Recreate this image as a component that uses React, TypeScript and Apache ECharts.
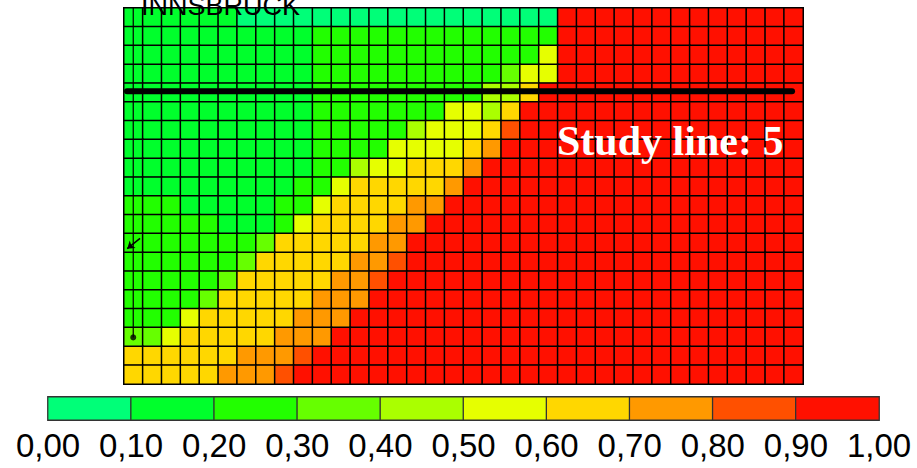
import React, { useEffect, useRef } from "react";
import * as echarts from "echarts";

// ---- categories ----
const columns = ["1","2","3","4","5","6","7","8","9","10","11","12","13","14","15","16","17","18","19","20","21","22","23","24","25","26","27","28","29","30","31","32","33","34","35","36"];
const rows = ["1","2","3","4","5","6","7","8","9","10","11","12","13","14","15","16","17","18","19","20"];

// ---- cell values, one array per row (top to bottom), 36 columns each ----
const row00 = [.15,.15,.15,.15,.15,.15, .05,.05,.05,.05,.05,.05, .05,.05,.05,.05,.05,.05, .05,.05,.05,.05,.05,.95, .95,.95,.95,.95,.95,.95, .95,.95,.95,.95,.95,.95];
const row01 = [.15,.15,.15,.15,.15,.15, .15,.15,.15,.15,.25,.25, .25,.25,.25,.25,.25,.25, .25,.25,.25,.25,.25,.95, .95,.95,.95,.95,.95,.95, .95,.95,.95,.95,.95,.95];
const row02 = [.15,.15,.15,.15,.15,.15, .15,.15,.15,.15,.25,.25, .25,.25,.25,.25,.25,.25, .25,.25,.25,.25,.55,.95, .95,.95,.95,.95,.95,.95, .95,.95,.95,.95,.95,.95];
const row03 = [.15,.15,.15,.15,.15,.15, .15,.15,.15,.15,.25,.25, .25,.25,.25,.25,.25,.25, .25,.25,.35,.55,.55,.95, .95,.95,.95,.95,.95,.95, .95,.95,.95,.95,.95,.95];
const row04 = [.15,.15,.15,.15,.15,.15, .15,.15,.15,.15,.25,.25, .25,.25,.25,.25,.25,.25, .25,.45,.45,.65,.95,.95, .95,.95,.95,.95,.95,.95, .95,.95,.95,.95,.95,.95];
const row05 = [.15,.15,.15,.15,.15,.15, .15,.15,.15,.15,.25,.25, .25,.25,.25,.25,.25,.55, .55,.45,.65,.95,.95,.95, .95,.95,.95,.95,.95,.95, .95,.95,.95,.95,.95,.95];
const row06 = [.15,.15,.15,.15,.15,.15, .15,.15,.15,.15,.25,.25, .25,.25,.25,.45,.55,.55, .55,.65,.85,.95,.95,.95, .95,.95,.95,.95,.95,.95, .95,.95,.95,.95,.95,.95];
const row07 = [.15,.15,.15,.15,.15,.15, .15,.15,.15,.15,.25,.25, .25,.25,.55,.55,.55,.55, .65,.75,.95,.95,.95,.95, .95,.95,.95,.95,.95,.95, .95,.95,.95,.95,.95,.95];
const row08 = [.15,.15,.15,.15,.15,.15, .15,.15,.15,.15,.25,.25, .45,.55,.55,.65,.65,.65, .75,.95,.95,.95,.95,.95, .95,.95,.95,.95,.95,.95, .95,.95,.95,.95,.95,.95];
const row09 = [.15,.15,.15,.15,.15,.15, .15,.15,.15,.25,.25,.55, .65,.65,.65,.65,.65,.75, .95,.95,.95,.95,.95,.95, .95,.95,.95,.95,.95,.95, .95,.95,.95,.95,.95,.95];
const row10 = [.25,.25,.25,.15,.15,.15, .15,.15,.25,.25,.55,.65, .65,.65,.65,.75,.75,.95, .95,.95,.95,.95,.95,.95, .95,.95,.95,.95,.95,.95, .95,.95,.95,.95,.95,.95];
const row11 = [.25,.25,.25,.25,.25,.15, .15,.15,.25,.55,.65,.65, .65,.65,.75,.75,.95,.95, .95,.95,.95,.95,.95,.95, .95,.95,.95,.95,.95,.95, .95,.95,.95,.95,.95,.95];
const row12 = [.25,.25,.25,.25,.25,.25, .25,.35,.65,.65,.65,.65, .65,.75,.75,.95,.95,.95, .95,.95,.95,.95,.95,.95, .95,.95,.95,.95,.95,.95, .95,.95,.95,.95,.95,.95];
const row13 = [.25,.25,.25,.25,.25,.25, .35,.65,.65,.65,.65,.65, .75,.75,.85,.95,.95,.95, .95,.95,.95,.95,.95,.95, .95,.95,.95,.95,.95,.95, .95,.95,.95,.95,.95,.95];
const row14 = [.25,.25,.25,.25,.25,.35, .65,.65,.65,.65,.65,.75, .75,.85,.95,.95,.95,.95, .95,.95,.95,.95,.95,.95, .95,.95,.95,.95,.95,.95, .95,.95,.95,.95,.95,.95];
const row15 = [.25,.25,.25,.25,.35,.65, .65,.65,.65,.65,.75,.75, .75,.95,.95,.95,.95,.95, .95,.95,.95,.95,.95,.95, .95,.95,.95,.95,.95,.95, .95,.95,.95,.95,.95,.95];
const row16 = [.25,.25,.25,.55,.65,.65, .65,.65,.65,.75,.75,.75, .95,.95,.95,.95,.95,.95, .95,.95,.95,.95,.95,.95, .95,.95,.95,.95,.95,.95, .95,.95,.95,.95,.95,.95];
const row17 = [.35,.35,.55,.65,.65,.65, .65,.65,.75,.75,.75,.95, .95,.95,.95,.95,.95,.95, .95,.95,.95,.95,.95,.95, .95,.95,.95,.95,.95,.95, .95,.95,.95,.95,.95,.95];
const row18 = [.65,.65,.65,.65,.65,.65, .75,.75,.75,.85,.95,.95, .95,.95,.95,.95,.95,.95, .95,.95,.95,.95,.95,.95, .95,.95,.95,.95,.95,.95, .95,.95,.95,.95,.95,.95];
const row19 = [.65,.65,.65,.65,.65,.75, .75,.75,.85,.95,.95,.95, .95,.95,.95,.95,.95,.95, .95,.95,.95,.95,.95,.95, .95,.95,.95,.95,.95,.95, .95,.95,.95,.95,.95,.95];

const gridRows = [row00,row01,row02,row03,row04,row05,row06,row07,row08,row09,row10,row11,row12,row13,row14,row15,row16,row17,row18,row19];

// ---- colour scale ----
const binEdges = [0, 0.1, 0.2, 0.3, 0.4, 0.5, 0.6, 0.7, 0.8, 0.9, 1.0];
const binColors = ["#00FF78", "#00FF2C", "#22FF00", "#66FF00", "#AAFF00", "#E6FF00", "#FFD700", "#FF9900", "#FF5000", "#FF1000"];
const legendValues = [0.05, 0.15, 0.25, 0.35, 0.45, 0.55, 0.65, 0.75, 0.85, 0.95];
const legendCats = ["a","b","c","d","e","f","g","h","i","j"];
const tickLabels = ["0,00", "0,10", "0,20", "0,30", "0,40", "0,50", "0,60", "0,70", "0,80", "0,90", "1,00"];

// ---- overlays (in cell units: x = columns from left, y = rows from top) ----
const studyLine = [[0.16, 4.43], [35.42, 4.43]];
const wellPath = [[0.49, 0], [0.49, 17.52]];
const wellEnd = [[0.49, 17.52]];
const wellArrow = [[0.85, 12.25], [0.17, 12.8]];
const studyLabel = "Study line: 5";
const topTitle = "INNSBRUCK";

export default function App() {
  const ref = useRef<HTMLDivElement>(null);
  useEffect(() => {
    if (!ref.current) return;
    const chart = echarts.init(ref.current, undefined, { renderer: "svg" });
    const cells: number[][] = [];
    gridRows.forEach((r, y) => r.forEach((v, x) => cells.push([x, y, v])));
    const legendData = legendValues.map((v, i) => [i, 0, v]);
    const pieces: any[] = binColors.map((c, i) => ({ gte: binEdges[i], lt: binEdges[i + 1], color: c }));
    pieces[pieces.length - 1] = { gte: binEdges[9], lte: binEdges[10], color: binColors[9] };

    const G = { left: 124, top: 8, width: 679, height: 376 };
    const hidden = { show: false };
    chart.setOption({
      animation: false,
      grid: [
        { ...G },
        { left: 48, top: 397, width: 831, height: 23 },
        { ...G },
      ],
      xAxis: [
        { type: "category", gridIndex: 0, data: columns, position: "bottom",
          axisLine: { show: true, lineStyle: { color: "#8a8a8a", width: 1.5 } },
          axisTick: hidden, axisLabel: hidden, splitLine: hidden },
        { type: "category", gridIndex: 1, data: legendCats, show: false },
        { type: "value", gridIndex: 1, min: 0, max: 1, interval: 0.1, position: "bottom",
          axisLine: hidden, axisTick: hidden, splitLine: hidden,
          axisLabel: { show: true, formatter: (v: number) => tickLabels[Math.round(v * 10)],
            fontSize: 33, fontFamily: "Liberation Sans, Arial, sans-serif", color: "#000", margin: 9,
            showMinLabel: true, showMaxLabel: true } },
        { type: "value", gridIndex: 2, min: 0, max: 36, show: false },
      ],
      yAxis: [
        { type: "category", gridIndex: 0, data: rows, inverse: true, position: "left",
          axisLine: { show: true, lineStyle: { color: "#8a8a8a", width: 1.5 } },
          axisTick: hidden, axisLabel: hidden, splitLine: hidden },
        { type: "category", gridIndex: 1, data: [""], show: false },
        { type: "value", gridIndex: 2, min: 0, max: 20, inverse: true, show: false },
        { type: "category", gridIndex: 0, data: rows, inverse: true, position: "right",
          axisLine: { show: true, lineStyle: { color: "#8a8a8a", width: 1.5 } },
          axisTick: hidden, axisLabel: hidden, splitLine: hidden },
      ],
      visualMap: {
        type: "piecewise", show: false, seriesIndex: [0, 1], dimension: 2, pieces,
      },
      series: [
        { type: "heatmap", xAxisIndex: 0, yAxisIndex: 0, data: cells,
          itemStyle: { borderColor: "#000", borderWidth: 1.5 }, emphasis: { disabled: true } },
        { type: "heatmap", xAxisIndex: 1, yAxisIndex: 1, data: legendData,
          itemStyle: { borderColor: "#333", borderWidth: 1.3 }, emphasis: { disabled: true } },
        { type: "line", xAxisIndex: 3, yAxisIndex: 2, data: studyLine, symbol: "none",
          lineStyle: { color: "#000", width: 6, cap: "round" }, z: 5, silent: true },
        { type: "line", xAxisIndex: 3, yAxisIndex: 2, data: wellPath, symbol: "none",
          lineStyle: { color: "#000", width: 1.2 }, z: 5, silent: true },
        { type: "scatter", xAxisIndex: 3, yAxisIndex: 2, data: wellEnd, symbol: "circle", symbolSize: 6,
          itemStyle: { color: "#000" }, z: 6, silent: true },
        { type: "lines", coordinateSystem: "cartesian2d", xAxisIndex: 3, yAxisIndex: 2,
          data: [{ coords: wellArrow }], symbol: ["none", "arrow"], symbolSize: 7,
          lineStyle: { color: "#000", width: 1.5, opacity: 1 }, z: 6, silent: true },
      ],
      graphic: [
        { type: "text", x: 557, y: 141, z: 10, silent: true,
          style: { text: studyLabel, fill: "#fff", font: 'bold 42px "Liberation Serif", "Times New Roman", serif',
            textAlign: "left", textVerticalAlign: "middle" } },
        { type: "text", x: 141, y: 5.5, z: 10, silent: true,
          style: { text: topTitle, fill: "#000", font: '27px "Liberation Sans", Arial, sans-serif',
            textAlign: "left", textVerticalAlign: "middle" } },
      ],
    });
    return () => chart.dispose();
  }, []);
  return (
    <div style={{ position: "fixed", left: 0, top: 0, width: 917, height: 468, background: "#fff" }}>
      <div ref={ref} style={{ width: 917, height: 468 }} />
    </div>
  );
}
